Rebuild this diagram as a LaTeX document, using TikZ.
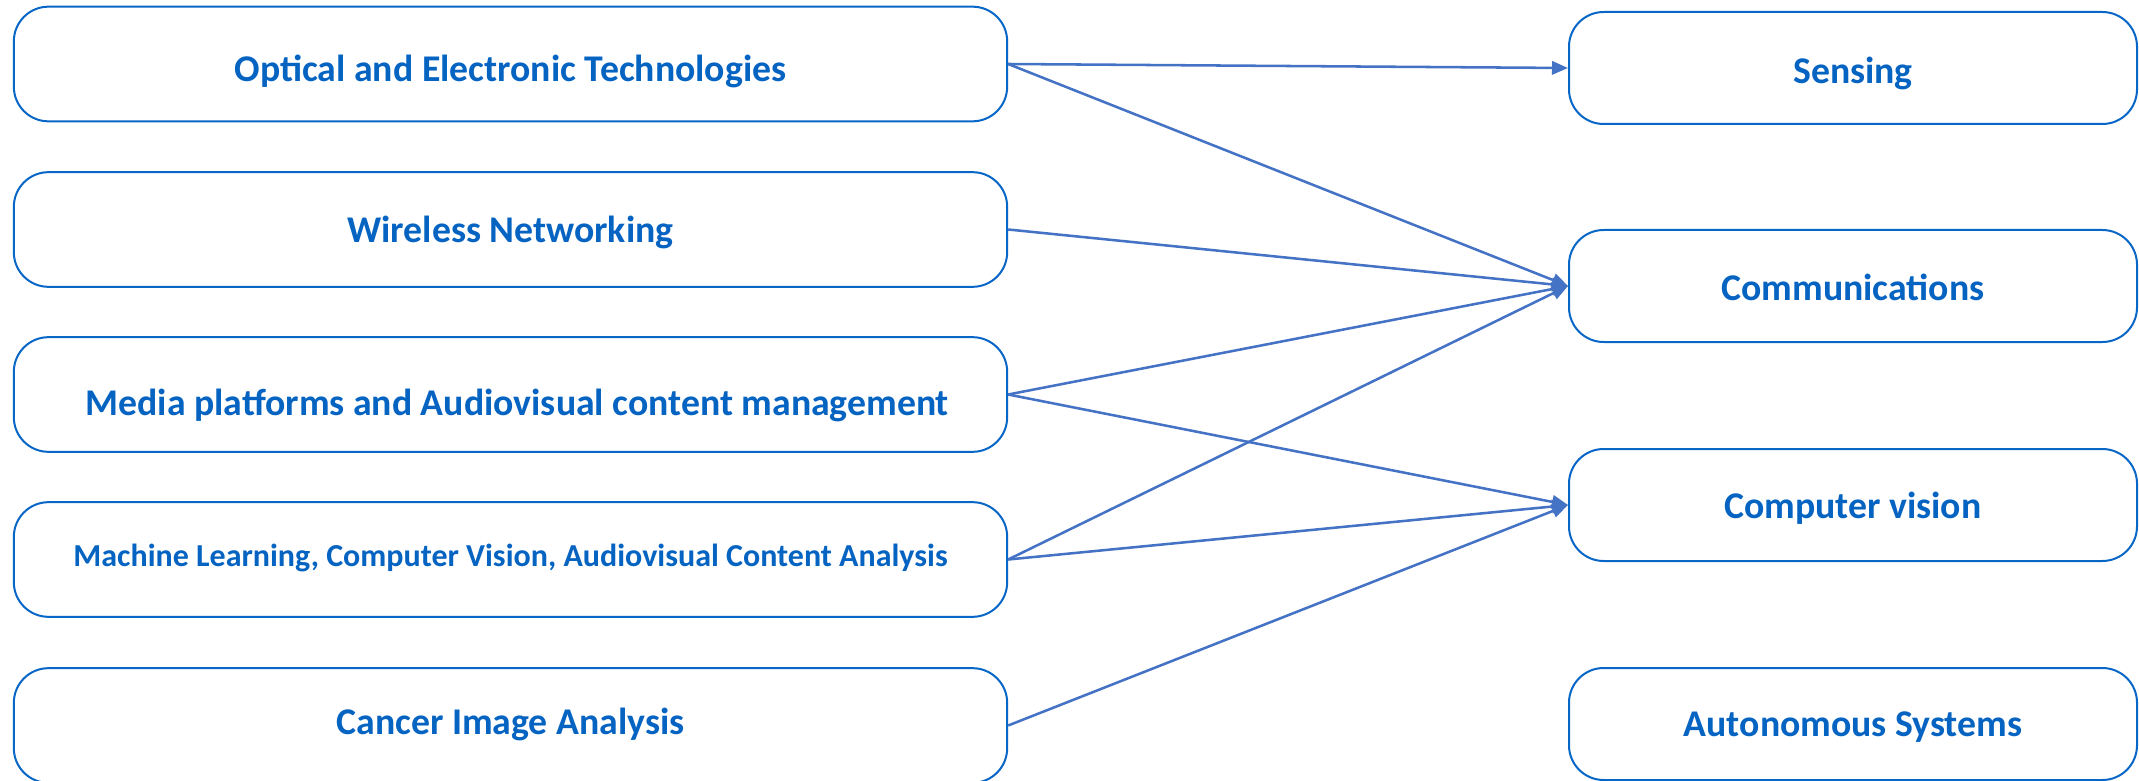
\documentclass[tikz,border=0pt]{standalone}
\usepackage{fontspec}
\setmainfont{Carlito}
\usetikzlibrary{arrows.meta}
\definecolor{txtblue}{HTML}{0563C1}
\definecolor{boxblue}{HTML}{0866C6}
\definecolor{linkblue}{HTML}{4472C4}
\newcommand{\shiftt}[2]{\raisebox{#1}{#2}}
\begin{document}
\begin{tikzpicture}[x=0.75pt,y=-0.75pt,
  lbox/.style={draw=boxblue,line width=1.5pt,rounded corners=26pt,minimum width=745pt,minimum height=86pt,text=txtblue,font=\fontsize{28.3}{33}\selectfont\bfseries,inner sep=0pt,text height=0pt,text depth=0pt},
  rbox/.style={draw=boxblue,line width=1.5pt,rounded corners=26pt,minimum width=426pt,minimum height=84pt,text=txtblue,font=\fontsize{28.3}{33}\selectfont\bfseries,inner sep=0pt,text height=0pt,text depth=0pt},
  link/.style={draw=linkblue,line width=1.9pt,-{Triangle[length=12pt,width=10pt]}}]
\useasboundingbox (0,0) rectangle (2139,781);
\node[lbox] (a) at (510.5,64) {\shiftt{-13pt}{Optical and Electronic Technologies}};
\node[lbox] (b) at (510.5,229.5) {\shiftt{-10pt}{Wireless Networking}};
\node[lbox] (c) at (510.5,394.5) {\hspace*{10pt}\shiftt{-16pt}{Media platforms and Audiovisual content management}};
\node[lbox,font=\fontsize{24}{28}\selectfont\bfseries] (d) at (510.5,559.5) {\shiftt{-5.5pt}{Machine Learning, Computer Vision, Audiovisual Content Analysis}};
\node[lbox] (e) at (510.5,725.5) {\shiftt{-6.6pt}{Cancer Image Analysis}};
\node[rbox] (s) at (1853,68) {\shiftt{-11.3pt}{Sensing}};
\node[rbox] (m) at (1853,286) {\shiftt{-10.8pt}{Communications}};
\node[rbox] (v) at (1853,505) {\shiftt{-9.8pt}{Computer vision}};
\node[rbox] (u) at (1853,724) {\shiftt{-9.7pt}{Autonomous Systems}};
\draw[link] (a.east) -- (s.west);
\draw[link] (a.east) -- (m.west);
\draw[link] (b.east) -- (m.west);
\draw[link] (c.east) -- (m.west);
\draw[link] (c.east) -- (v.west);
\draw[link] (d.east) -- (m.west);
\draw[link] (d.east) -- (v.west);
\draw[link] (e.east) -- (v.west);
\end{tikzpicture}
\end{document}
